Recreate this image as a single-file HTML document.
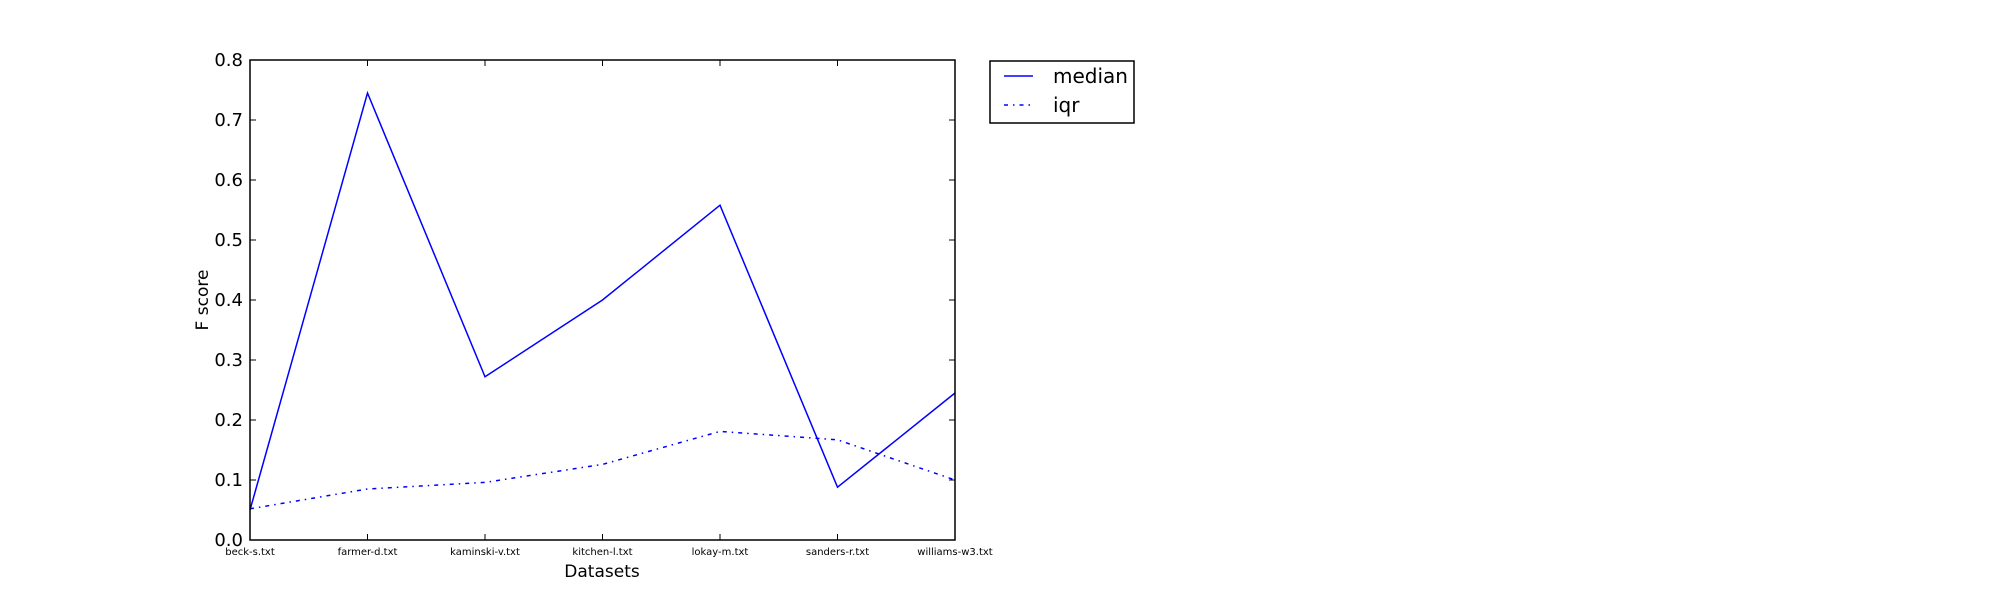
<!DOCTYPE html>
<html><head><meta charset="utf-8"><style>body{margin:0;background:#fff}svg{display:block}text{font-family:"DejaVu Sans","Liberation Sans",sans-serif;fill:#000}</style></head>
<body>
<svg id="chart" width="2000" height="600">
<g id="plot"></g>
</svg>
<script>
const categories=["beck-s.txt","farmer-d.txt","kaminski-v.txt","kitchen-l.txt","lokay-m.txt","sanders-r.txt","williams-w3.txt"];
const medianValues=[0.05,0.745,0.272,0.40,0.558,0.088,0.245];
const iqrValues=[0.052,0.085,0.096,0.126,0.181,0.167,0.100];
const yTicks=[0.0,0.1,0.2,0.3,0.4,0.5,0.6,0.7,0.8];
const L=250,R=955,T=60,B=540,yMax=0.8;
const ns="http://www.w3.org/2000/svg";
const g=document.getElementById('plot');
function x(i){return L+i*(R-L)/(categories.length-1);}
function y(v){return B-v/yMax*(B-T);}
function mk(tag,attrs,parent){const e=document.createElementNS(ns,tag);for(const k in attrs)e.setAttribute(k,attrs[k]);(parent||g).appendChild(e);return e;}
function line(values,dash,name){
  const p=mk('polyline',{points:values.map((v,i)=>x(i)+','+y(v)).join(' '),fill:'none',stroke:'#0000ff','stroke-width':1.5});
  if(dash)p.setAttribute('stroke-dasharray',dash);
  
  
}
line(medianValues,null,'median-line');
line(iqrValues,'4,5,1.5,5','iqr-line');
const frame=mk('rect',{x:L,y:T,width:R-L,height:B-T,fill:'none',stroke:'#000','stroke-width':1.5});


yTicks.forEach(v=>{
  const yy=y(v);
  mk('line',{x1:L,x2:L+6,y1:yy,y2:yy,stroke:'#000'});
  mk('line',{x1:R,x2:R-6,y1:yy,y2:yy,stroke:'#000'});
  const t=mk('text',{x:L-7,y:yy+6,'text-anchor':'end','font-size':18});
  t.textContent=v.toFixed(1);
  
  
});
categories.forEach((c,i)=>{
  const xx=x(i);
  mk('line',{x1:xx,x2:xx,y1:B,y2:B-6,stroke:'#000'});
  mk('line',{x1:xx,x2:xx,y1:T,y2:T+6,stroke:'#000'});
  const t=mk('text',{x:xx,y:555,'text-anchor':'middle','font-size':10});
  t.textContent=c;
  
  
});
const xt=mk('text',{x:602,y:577,'text-anchor':'middle','font-size':17});
xt.textContent='Datasets';


const yt=mk('text',{x:0,y:0,'text-anchor':'middle','font-size':17,transform:'translate(208,300) rotate(-90)'});
yt.textContent='F score';


const leg=mk('g',{});


mk('rect',{x:990,y:61,width:144,height:62,fill:'#fff',stroke:'#000','stroke-width':1.5},leg);
mk('line',{x1:1004,x2:1033,y1:76,y2:76,stroke:'#0000ff','stroke-width':1.5},leg);
mk('line',{x1:1004,x2:1033,y1:105,y2:105,stroke:'#0000ff','stroke-width':1.5,'stroke-dasharray':'4,5,1.5,5'},leg);
const l1=mk('text',{x:1053,y:83,'font-size':20},leg);l1.textContent='median';


const l2=mk('text',{x:1053,y:112,'font-size':20},leg);l2.textContent='iqr';


</script>
</body></html>
